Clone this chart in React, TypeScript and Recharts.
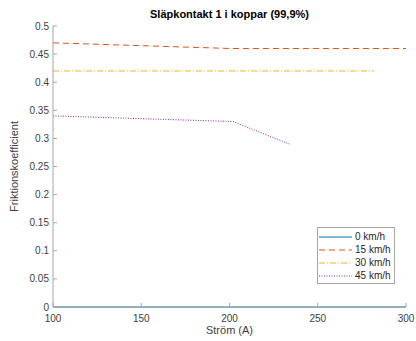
import { Line, LineChart, XAxis, YAxis } from "recharts"

const xTicks = [100, 150, 200, 250, 300]
const yTicks = [0, 0.05, 0.1, 0.15, 0.2, 0.25, 0.3, 0.35, 0.4, 0.45, 0.5]

const speed0 = [
    { x: 100, y: 0 },
    { x: 200, y: 0 },
    { x: 300, y: 0 },
]
const speed15 = [
    { x: 100, y: 0.47 },
    { x: 150, y: 0.465 },
    { x: 200, y: 0.46 },
    { x: 250, y: 0.46 },
    { x: 300, y: 0.46 },
]
const speed30 = [
    { x: 100, y: 0.42 },
    { x: 200, y: 0.42 },
    { x: 282, y: 0.42 },
]
const speed45 = [
    { x: 100, y: 0.34 },
    { x: 202, y: 0.33 },
    { x: 234, y: 0.29 },
]

const series = [
    { name: "0 km/h", data: speed0, color: "#0072BD", dash: undefined },
    { name: "15 km/h", data: speed15, color: "#D95319", dash: "6 4" },
    { name: "30 km/h", data: speed30, color: "#EDB120", dash: "6 2 1 2" },
    { name: "45 km/h", data: speed45, color: "#7E2F8E", dash: "1 1.5" },
]

const font = "'Liberation Sans', Arial, sans-serif"
const axisColor = "#a6a6a6"
const textColor = "#404040"

function LegendBox() {
    return (
        <div style={{ position: "absolute", left: 317, top: 227, width: 75, height: 53, border: "1px solid #a6a6a6", background: "#fff", padding: "2px 0 0 1px", boxSizing: "content-box", fontFamily: font }}>
            {series.map((s) => (
                <div key={s.name} style={{ display: "flex", alignItems: "center", height: 13, fontSize: 10, color: "#262626", whiteSpace: "nowrap" }}>
                    <svg width={33} height={8} style={{ marginRight: 3, flex: "none" }}>
                        <line x1={0} y1={4} x2={33} y2={4} stroke={s.color} strokeWidth={1} strokeDasharray={s.dash} />
                    </svg>
                    {s.name}
                </div>
            ))}
        </div>
    )
}

export default function App() {
    return (
        <div style={{ position: "fixed", left: 0, top: 0, width: 416, height: 341, background: "#fff", fontFamily: font }}>
            <div style={{ position: "absolute", left: 53, width: 353, top: 8, textAlign: "center", fontSize: 11, fontWeight: "bold", color: "#000" }}>
                Släpkontakt 1 i koppar (99,9%)
            </div>
            <LineChart width={416} height={341} margin={{ top: 26, right: 10, bottom: 0, left: 0 }}>
                <XAxis
                    xAxisId="bottom"
                    type="number"
                    dataKey="x"
                    domain={[100, 300]}
                    ticks={xTicks}
                    height={34}
                    stroke={axisColor}
                    tickSize={-4}
                    tickMargin={12}
                    tick={{ fill: textColor, fontSize: 10 }}
                    allowDataOverflow
                />
                <XAxis
                    xAxisId="top"
                    orientation="top"
                    type="number"
                    dataKey="x"
                    domain={[100, 300]}
                    ticks={xTicks}
                    height={0}
                    stroke={axisColor}
                    tickSize={-4}
                    tickFormatter={() => ""}
                />
                <YAxis
                    yAxisId="left"
                    type="number"
                    domain={[0, 0.5]}
                    ticks={yTicks}
                    width={53}
                    stroke={axisColor}
                    tickSize={-4}
                    tickMargin={8}
                    tick={{ fill: textColor, fontSize: 10 }}
                    label={{ value: "Friktionskoefficient", angle: -90, position: "insideLeft", offset: 14, fill: textColor, fontSize: 11, style: { textAnchor: "middle" } }}
                />
                <YAxis
                    yAxisId="right"
                    orientation="right"
                    type="number"
                    domain={[0, 0.5]}
                    ticks={yTicks}
                    width={0}
                    stroke={axisColor}
                    tickSize={-4}
                    tickFormatter={() => ""}
                />
                {series.map((s) => (
                    <Line
                        key={s.name}
                        xAxisId="bottom"
                        yAxisId="left"
                        data={s.data}
                        dataKey="y"
                        name={s.name}
                        type="linear"
                        stroke={s.color}
                        strokeWidth={1}
                        strokeDasharray={s.dash}
                        dot={false}
                        activeDot={false}
                        isAnimationActive={false}
                    />
                ))}
            </LineChart>
            <div style={{ position: "absolute", left: 53, width: 353, top: 324, lineHeight: "13px", textAlign: "center", fontSize: 11, color: textColor }}>
                Ström (A)
            </div>
            <LegendBox />
        </div>
    )
}
